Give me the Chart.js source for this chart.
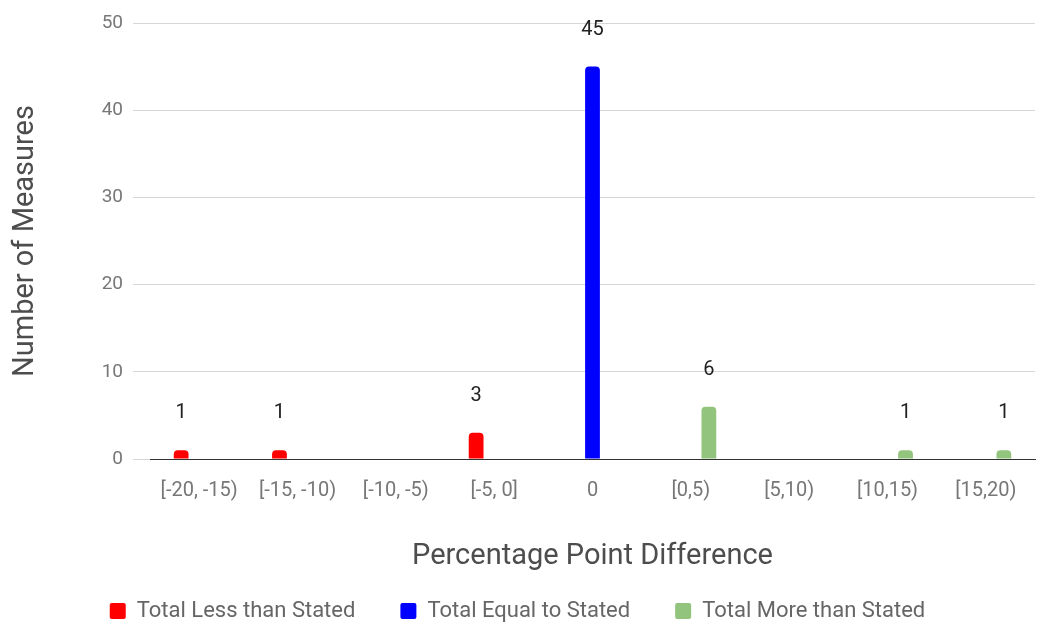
<!DOCTYPE html>
<html>
<head>
<meta charset="utf-8">
<script src="https://cdn.jsdelivr.net/npm/chart.js@4/dist/chart.umd.min.js"></script>
<style>
  html, body { margin: 0; padding: 0; background: #fff; }
  #wrap { width: 1037px; height: 623px; }
</style>
</head>
<body>
<div id="wrap"><canvas id="c" width="1037" height="623"></canvas></div>
<script>
// Histogram buckets of percentage point difference
const categories = ['[-20, -15)', '[-15, -10)', '[-10, -5)', '[-5, 0]', '0', '[0,5)', '[5,10)', '[10,15)', '[15,20)'];
const lessThanStated  = [1, 1, null, 3, null, null, null, null, null];
const equalToStated   = [null, null, null, null, 45, null, null, null, null];
const moreThanStated  = [null, null, null, null, null, 6, null, 1, 1];
const yTicks = [0, 10, 20, 30, 40, 50];

const FONT = 'Roboto, "Noto Sans", sans-serif';

// Writes each bar's value above it
const valueLabels = {
  id: 'valueLabels',
  afterDatasetsDraw(chart) {
    const ctx = chart.ctx;
    ctx.save();
    ctx.font = '20px ' + FONT;
    ctx.fillStyle = '#222222';
    ctx.textAlign = 'center';
    ctx.textBaseline = 'middle';
    chart.data.datasets.forEach((ds, i) => {
      const meta = chart.getDatasetMeta(i);
      meta.data.forEach((bar, j) => {
        const v = ds.data[j];
        if (v === null || v === undefined) return;
        ctx.fillText(String(v), bar.x, bar.y - 37);
      });
    });
    ctx.restore();
  }
};

new Chart(document.getElementById('c'), {
  type: 'bar',
  data: {
    labels: categories,
    datasets: [
      { label: 'Total Less than Stated', data: lessThanStated, backgroundColor: '#ff0000' },
      { label: 'Total Equal to Stated', data: equalToStated, backgroundColor: '#0000ff' },
      { label: 'Total More than Stated', data: moreThanStated, backgroundColor: '#93c47d' }
    ]
  },
  options: {
    responsive: false,
    animation: false,
    datasets: {
      bar: {
        categoryPercentage: 0.55,
        barPercentage: 0.82,
        borderRadius: { topLeft: 4, topRight: 4, bottomLeft: 0, bottomRight: 0 },
        borderSkipped: false
      }
    },
    layout: { padding: { top: 23, right: 2, bottom: -9, left: 0 } },
    plugins: {
      legend: {
        position: 'bottom',
        labels: {
          boxWidth: 16,
          boxHeight: 16,
          useBorderRadius: true,
          borderRadius: 2,
          padding: 45,
          color: '#666666',
          font: { family: FONT, size: 22 }
        }
      },
      tooltip: { enabled: false }
    },
    scales: {
      x: {
        grid: { display: false },
        border: { display: true, color: '#333333', width: 1 },
        ticks: { color: '#777777', padding: 12, maxRotation: 0, autoSkip: false, font: { family: FONT, size: 20 } },
        title: {
          display: true,
          text: 'Percentage Point Difference',
          color: '#4d4d4d',
          font: { family: FONT, size: 29 },
          padding: { top: 0, bottom: -19 }
        },
        afterFit(scale) { scale.height = 96; }
      },
      y: {
        min: 0,
        max: 50,
        afterBuildTicks(scale) { scale.ticks = yTicks.map(v => ({ value: v })); },
        grid: { color: '#d6d6d6', tickLength: 17, drawTicks: true },
        border: { display: false },
        ticks: { color: '#777777', padding: 10, font: { family: FONT, size: 19 } },
        title: {
          display: true,
          text: 'Number of Measures',
          color: '#4d4d4d',
          font: { family: FONT, size: 29 },
          padding: { top: 8, bottom: 0 }
        },
        afterFit(scale) { scale.width = 150; }
      }
    }
  },
  plugins: [valueLabels]
});
</script>
</body>
</html>
